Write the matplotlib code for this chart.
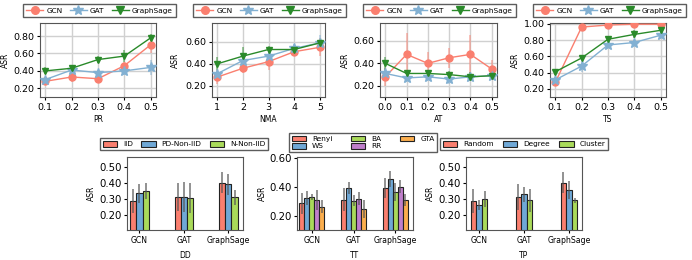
import matplotlib
matplotlib.use("Agg")
import matplotlib.pyplot as plt
import numpy as np

models = ["GCN", "GAT", "GraphSage"]
line_colors = {"GCN": "#FA7F6F", "GAT": "#82B0D2", "GraphSage": "#2A8A2A"}
line_markers = {"GCN": "o", "GAT": "*", "GraphSage": "v"}

# top row: x values, means and errors per model
pr_x = [0.1, 0.2, 0.3, 0.4, 0.5]
pr_mean = {"GCN": [0.28, 0.33, 0.31, 0.46, 0.70],
           "GAT": [0.30, 0.41, 0.38, 0.40, 0.44],
           "GraphSage": [0.40, 0.43, 0.53, 0.57, 0.78]}
pr_err = {"GCN": [0.03, 0.06, 0.03, 0.04, 0.10],
          "GAT": [0.03, 0.03, 0.03, 0.05, 0.09],
          "GraphSage": [0.04, 0.03, 0.04, 0.07, 0.04]}

nma_x = [1, 2, 3, 4, 5]
nma_mean = {"GCN": [0.28, 0.36, 0.42, 0.51, 0.55],
            "GAT": [0.31, 0.43, 0.47, 0.54, 0.59],
            "GraphSage": [0.40, 0.47, 0.53, 0.53, 0.59]}
nma_err = {"GCN": [0.06, 0.04, 0.08, 0.04, 0.08],
           "GAT": [0.03, 0.04, 0.04, 0.04, 0.07],
           "GraphSage": [0.06, 0.08, 0.03, 0.02, 0.03]}

at_x = [0.0, 0.1, 0.2, 0.3, 0.4, 0.5]
at_mean = {"GCN": [0.28, 0.48, 0.40, 0.45, 0.48, 0.35],
           "GAT": [0.31, 0.27, 0.28, 0.26, 0.28, 0.29],
           "GraphSage": [0.40, 0.31, 0.31, 0.30, 0.28, 0.29]}
at_err = {"GCN": [0.08, 0.19, 0.10, 0.09, 0.17, 0.08],
          "GAT": [0.03, 0.03, 0.03, 0.04, 0.03, 0.03],
          "GraphSage": [0.06, 0.03, 0.03, 0.03, 0.04, 0.03]}

ts_x = [0.1, 0.2, 0.3, 0.4, 0.5]
ts_mean = {"GCN": [0.28, 0.96, 0.985, 0.995, 0.995],
           "GAT": [0.31, 0.48, 0.74, 0.77, 0.86],
           "GraphSage": [0.41, 0.58, 0.81, 0.87, 0.92]}
ts_err = {"GCN": [0.03, 0.01, 0.01, 0.005, 0.005],
          "GAT": [0.03, 0.07, 0.03, 0.03, 0.02],
          "GraphSage": [0.04, 0.03, 0.02, 0.05, 0.02]}

# bottom row: grouped bars
dd_labels = ["IID", "PD-Non-IID", "N-Non-IID"]
dd_mean = [[0.285, 0.312, 0.40], [0.333, 0.312, 0.39], [0.348, 0.306, 0.31]]
dd_err = [[0.077, 0.086, 0.066], [0.057, 0.093, 0.067], [0.052, 0.094, 0.047]]

tt_labels = ["Renyi", "WS", "BA", "RR", "GTA"]
tt_mean = [[0.286, 0.31, 0.394], [0.324, 0.394, 0.457], [0.331, 0.305, 0.366],
           [0.31, 0.32, 0.403], [0.263, 0.247, 0.31]]
tt_err = [[0.075, 0.08, 0.07], [0.05, 0.04, 0.055], [0.02, 0.04, 0.06],
          [0.07, 0.045, 0.045], [0.045, 0.06, 0.04]]

tp_labels = ["Random", "Degree", "Cluster"]
tp_mean = [[0.285, 0.312, 0.40], [0.262, 0.327, 0.354], [0.30, 0.29, 0.29]]
tp_err = [[0.077, 0.08, 0.066], [0.03, 0.047, 0.055], [0.05, 0.07, 0.015]]

bar_colors = ["#FA7F6F", "#6FA8D6", "#A9DA5A", "#BF7FCB", "#FBAE4E"]

fig = plt.figure(figsize=(6.92, 2.60), dpi=100)
W, H = 692.0, 260.0


def box(left, top, width, height):
    return [left / W, (H - top - height) / H, width / W, height / H]


def line_panel(rect, xs, means, errs, xlabel, ylim, xticks, yticks, xfmt, leg, ylx):
    ax = fig.add_axes(rect)
    for m in models:
        c = line_colors[m]
        ax.errorbar(xs, means[m], yerr=errs[m], fmt="none", ecolor=c,
                    alpha=0.5, elinewidth=1.3, zorder=2)
        ms = 7 if m == "GAT" else 5
        ax.plot(xs, means[m], color=c, marker=line_markers[m], markersize=ms,
                linewidth=1.0, label=m, zorder=3)
    ax.set_ylim(*ylim)
    ax.set_xticks(xticks)
    ax.set_xticklabels([xfmt(v) for v in xticks])
    ax.set_yticks(yticks)
    ax.set_yticklabels([f"{v:.2f}" for v in yticks])
    ax.grid(True, color="#d0d0d0", linewidth=1.0)
    ax.set_axisbelow(True)
    ax.tick_params(labelsize=6.8, length=2.5, pad=1.5)
    ax.set_xlabel(xlabel, fontsize=5.5, labelpad=2.5)
    ax.set_ylabel("ASR", fontsize=5.5)
    ax.yaxis.set_label_coords(ylx, 0.5)
    for s in ax.spines.values():
        s.set_color("#555555")
    ax.legend(ncol=3, loc="lower left", bbox_to_anchor=leg, mode="expand",
              fontsize=5.3, frameon=True, edgecolor="#333333", fancybox=False,
              handlelength=2.3, columnspacing=0.8, handletextpad=0.4,
              borderpad=0.45, borderaxespad=0.0, markerscale=1.1)
    return ax


f1 = lambda v: f"{v:.1f}"
line_panel(box(40, 23, 116, 74), pr_x, pr_mean, pr_err, "PR", (0.10, 0.95),
           pr_x, [0.2, 0.4, 0.6, 0.8], f1, (-0.147, 1.081, 1.319, 0.1), -0.262)
line_panel(box(212, 23, 113, 74), nma_x, nma_mean, nma_err, "NMA", (0.10, 0.77),
           nma_x, [0.2, 0.4, 0.6], lambda v: f"{v}", (-0.168, 1.081, 1.354, 0.1),
           -0.287)
line_panel(box(380, 23, 117, 74), at_x, at_mean, at_err, "AT", (0.10, 0.76),
           at_x, [0.2, 0.4, 0.6], f1, (-0.145, 1.081, 1.308, 0.1), -0.261)
line_panel(box(550, 23, 116, 74), ts_x, ts_mean, ts_err, "TS", (0.10, 1.01),
           ts_x, [0.2, 0.4, 0.6, 0.8, 1.0], f1, (-0.147, 1.081, 1.319, 0.1),
           -0.262)


def bar_panel(rect, labels, means, errs, xlabel, ylim, yticks, width, xlim, leg, ylx):
    ax = fig.add_axes(rect)
    n = len(labels)
    x = np.arange(len(models))
    for i, lab in enumerate(labels):
        off = (i - (n - 1) / 2) * width
        ax.bar(x + off, means[i], width=width, color=bar_colors[i],
               edgecolor="#222222", linewidth=0.8, label=lab)
        ax.errorbar(x + off, means[i], yerr=errs[i], fmt="none",
                    ecolor="#555555", alpha=0.75, elinewidth=1.2)
    ax.set_xticks(x)
    ax.set_xticklabels(models)
    ax.set_xlim(*xlim)
    ax.set_ylim(*ylim)
    ax.set_yticks(yticks)
    ax.set_yticklabels([f"{v:.2f}" for v in yticks])
    ax.tick_params(axis="y", labelsize=7.3, length=2.5, pad=1.5)
    ax.tick_params(axis="x", labelsize=5.6, length=2.5, pad=1.5)
    ax.set_xlabel(xlabel, fontsize=5.5, labelpad=4.5)
    ax.set_ylabel("ASR", fontsize=5.5)
    ax.yaxis.set_label_coords(ylx, 0.5)
    for s in ax.spines.values():
        s.set_color("#555555")
    ax.legend(ncol=3, loc="lower left", bbox_to_anchor=leg, mode="expand",
              fontsize=5.3, frameon=True, edgecolor="#333333", fancybox=False,
              handlelength=2.0, handleheight=0.8, columnspacing=1.1,
              handletextpad=0.8, borderpad=0.35, borderaxespad=0.0,
              labelspacing=0.15)
    return ax


bar_panel(box(127, 157, 116, 73), dd_labels, dd_mean, dd_err, "DD",
          (0.105, 0.56), [0.2, 0.3, 0.4, 0.5], 0.14, (-0.28, 2.33),
          (-0.233, 1.096, 1.448, 0.1), -0.271)
bar_panel(box(297, 157, 116, 73), tt_labels, tt_mean, tt_err, "TT",
          (0.10, 0.61), [0.2, 0.4, 0.6], 0.12, (-0.36, 2.43),
          (-0.069, 1.068, 1.276, 0.1), -0.263)
bar_panel(box(466, 157, 116, 73), tp_labels, tp_mean, tp_err, "TP",
          (0.105, 0.56), [0.2, 0.3, 0.4, 0.5], 0.125, (-0.29, 2.29),
          (-0.224, 1.096, 1.448, 0.1), -0.271)

fig.savefig("out.png", dpi=100)
